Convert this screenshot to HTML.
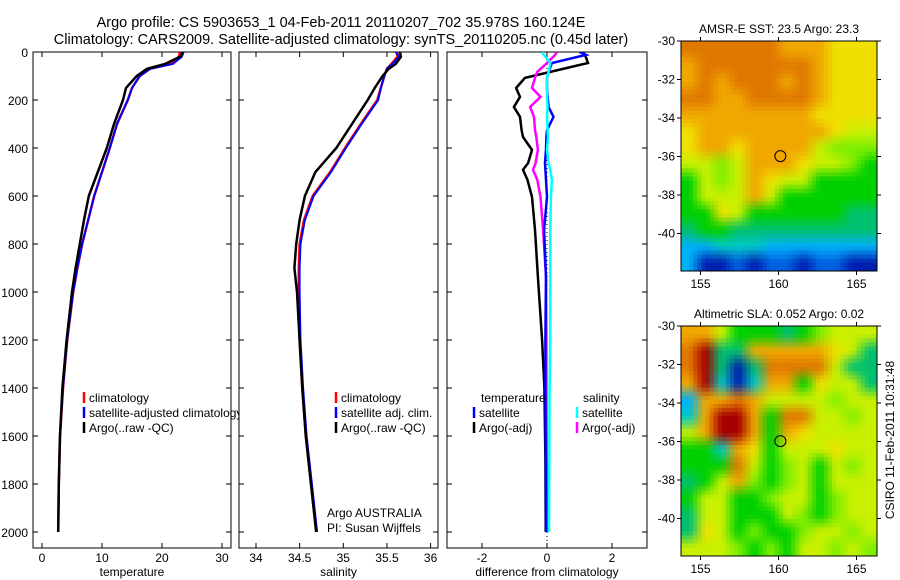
<!DOCTYPE html>
<html><head><meta charset="utf-8"><style>
body{margin:0;background:#fff}
svg{display:block;font-family:"Liberation Sans",sans-serif}
text{fill:#000}
</style></head><body>
<svg id="c" width="900" height="580" viewBox="0 0 900 580" xmlns="http://www.w3.org/2000/svg">
<defs>
<clipPath id="cp1"><rect x="33" y="52" width="198" height="496"/></clipPath>
<clipPath id="cp2"><rect x="239" y="52" width="199" height="496"/></clipPath>
<clipPath id="cp3"><rect x="447" y="52" width="200" height="496"/></clipPath>
</defs>
<text x="341" y="27" font-size="14.5" text-anchor="middle">Argo profile: CS 5903653_1 04-Feb-2011 20110207_702 35.978S 160.124E</text>
<text x="341" y="44" font-size="14.5" text-anchor="middle">Climatology: CARS2009. Satellite-adjusted climatology: synTS_20110205.nc (0.45d later)</text>
<g id="g"></g>
</svg>
<script>
// ---- data ----
const depthProfile=[0,20,50,70,100,150,200,300,400,500,600,700,800,900,1000,1200,1400,1600,1800,2000];
const climTemp=[23,22.8,21.5,18,16.3,15,14.3,12.5,11.3,10,8.7,7.7,6.7,5.9,5.2,4.2,3.5,3.0,2.8,2.7];
const satTemp=[23.6,23.3,21.8,18,16.3,15,14.3,12.5,11.3,10,8.7,7.7,6.7,5.9,5.2,4.2,3.5,3.0,2.8,2.7];
const argoTemp=[23.5,23.0,20.5,17.5,15.8,14,13.5,12,10.8,9.3,7.8,7,6.3,5.6,5,4.1,3.4,3.0,2.8,2.7];
const climSal=[35.62,35.62,35.55,35.5,35.47,35.43,35.39,35.2,35.02,34.85,34.65,34.55,34.5,34.49,34.49,34.5,34.53,34.57,34.63,34.69];
const satSal=[35.6,35.64,35.56,35.5,35.47,35.43,35.4,35.21,35.03,34.86,34.66,34.56,34.51,34.5,34.5,34.51,34.54,34.58,34.64,34.7];
const argoSal=[35.65,35.66,35.6,35.52,35.45,35.36,35.28,35.1,34.92,34.68,34.56,34.5,34.46,34.44,34.47,34.5,34.53,34.57,34.63,34.69];
const depthDiff=[0,12,46,83,108,150,187,229,270,326,354,408,463,491,533,604,741,937,1200,1400,1700,2000];
const tempArgoDiff=[1.1,1.17,1.26,0.1,-0.68,-0.95,-0.83,-1.02,-0.83,-0.78,-0.74,-0.46,-0.58,-0.74,-0.6,-0.46,-0.37,-0.28,-0.15,-0.08,-0.05,-0.04];
const salArgoDiff=[0.3,0.25,0,-0.3,-0.37,-0.46,-0.2,-0.52,-0.4,-0.37,-0.33,-0.28,-0.35,-0.43,-0.3,-0.2,-0.12,-0.03,-0.02,-0.02,-0.01,0];
const tempSatDiff=[1.0,1.2,0.15,0.05,0,0,0.02,0.05,0.2,0,-0.02,-0.03,-0.06,-0.05,-0.03,0,-0.09,-0.03,-0.05,-0.05,-0.04,-0.03];
const salSatDiff=[-0.15,-0.1,0.1,0.05,0,0,0,0.02,0,0.02,0.03,0,0.05,0.1,0.15,0.12,0.1,0.1,0.1,0.08,0.07,0.06];
const depthTicks=[0,200,400,600,800,1000,1200,1400,1600,1800,2000];
const tempTicks=[0,10,20,30];
const salTicks=[34,34.5,35,35.5,36];
const diffTicks=[-2,0,2];
const lonTicks=[155,160,165];
const latTicks=[-30,-32,-34,-36,-38,-40];
const sstGrid=["OOOOOOoooYYY","oOOOOOOOoYYY","oOoOOOoOoYYY","OOooOOOOoYYY","ooooooooYYYY","YooooooooYyy","YooYooooyLLL","yyLyoooYyyLG","GyLyoYyyGGGG","GyyyoyGGGGGG","GGYyGGGGGGgg","gGGggggggggg","sscccsssssss","sBBbBbbBbbBB"];
const slaGrid=["ooyGGGgGLyyy","ORggoooooYyg","ORgBgOOOOygg","oRcBcooGYyyg","sooOoyyyyLyy","coRRoGOOyyLy","yoRRoGoYyyyy","GGcoYGyyyYyy","GGGOyGLyGyLy","gGyoLGLyGyyy","GyyGGLyyGLyy","gyyGGGyLGLyy","gYyGLGGLyyLy","yyyLGLGyyLyL"];
const cmap={o:[240,168,0],O:[224,120,0],R:[168,0,0],Y:[240,224,0],y:[200,240,0],L:[128,238,0],G:[0,208,0],g:[0,192,112],c:[0,200,200],s:[0,176,248],b:[0,96,224],B:[0,32,176]};
// ---- helpers ----
const NS="http://www.w3.org/2000/svg", G=document.getElementById('g');
function mk(t,a,p){const e=document.createElementNS(NS,t);for(const k in a)e.setAttribute(k,a[k]);(p||G).appendChild(e);return e;}
const Y=d=>52+d*0.24;
const xT=v=>42+v*6, xS=v=>256+(v-34)*87.3, xD=v=>547+v*32.5;
function panel(name,x0,x1,xs,ticks,label,yl){
  const r=mk('rect',{x:x0,y:52,width:x1-x0,height:496,fill:'#fff',stroke:'#000','stroke-width':1});
  
  ticks.forEach(t=>{const x=xs(t);
    mk('line',{x1:x,x2:x,y1:548,y2:543,stroke:'#000'});mk('line',{x1:x,x2:x,y1:52,y2:57,stroke:'#000'});
    const tx=mk('text',{x:x,y:562,'font-size':12,'text-anchor':'middle'});tx.textContent=t;
    });
  depthTicks.forEach(d=>{const y=Y(d);
    mk('line',{x1:x0,x2:x0+5,y1:y,y2:y,stroke:'#000'});mk('line',{x1:x1-5,x2:x1,y1:y,y2:y,stroke:'#000'});
    if(yl){const tx=mk('text',{x:28,y:y+5,'font-size':12,'text-anchor':'end'});tx.textContent=d;
      }});
  const xl=mk('text',{x:(x0+x1)/2,y:576,'font-size':12,'text-anchor':'middle'});xl.textContent=label;
  
}
function line(name,ds,vs,xs,col,clip,w){
  const pts=ds.map((d,i)=>xs(vs[i]).toFixed(1)+','+Y(d).toFixed(1)).join(' ');
  const p=mk('polyline',{points:pts,fill:'none',stroke:col,'stroke-width':w||2.5,'clip-path':'url(#'+clip+')'});
  
}
function leg(name,x,y,col,txt){
  mk('line',{x1:x,x2:x,y1:y-10,y2:y+1,stroke:col,'stroke-width':2.5});
  const t=mk('text',{x:x+5,y:y,'font-size':12});t.textContent=txt;
  
}
// ---- panel 1 ----
panel('temperature-panel',33,231,xT,tempTicks,'temperature',true);
line('temp-climatology-line',depthProfile,climTemp,xT,'#f00','cp1');
line('temp-satellite-line',depthProfile,satTemp,xT,'#00f','cp1',2);
line('temp-argo-line',depthProfile,argoTemp,xT,'#000','cp1');
leg('legend-climatology',84,402,'#f00','climatology');
leg('legend-satellite-adjusted',84,417,'#00f','satellite-adjusted climatology');
leg('legend-argo',84,432,'#000','Argo(..raw -QC)');
// ---- panel 2 ----
panel('salinity-panel',239,438,xS,salTicks,'salinity',false);
line('sal-climatology-line',depthProfile,climSal,xS,'#f00','cp2');
line('sal-satellite-line',depthProfile,satSal,xS,'#00f','cp2',2);
line('sal-argo-line',depthProfile,argoSal,xS,'#000','cp2');
leg('legend-sal-climatology',336,402,'#f00','climatology');
leg('legend-sal-satellite',336,417,'#00f','satellite adj. clim.');
leg('legend-sal-argo',336,432,'#000','Argo(..raw -QC)');
[['Argo AUSTRALIA',517],['PI: Susan Wijffels',532]].forEach(([s,y])=>{const t=mk('text',{x:327,y:y,'font-size':12});t.textContent=s;
  });
// ---- panel 3 ----
panel('difference-panel',447,647,xD,diffTicks,'difference from climatology',false);
mk('line',{x1:xD(0),x2:xD(0),y1:52,y2:548,stroke:'#000','stroke-dasharray':'1,3'});
line('diff-temp-argo-line',depthDiff,tempArgoDiff,xD,'#000','cp3');
line('diff-sal-argo-line',depthDiff,salArgoDiff,xD,'#f0f','cp3');
line('diff-temp-satellite-line',depthDiff,tempSatDiff,xD,'#00f','cp3');
line('diff-sal-satellite-line',depthDiff,salSatDiff,xD,'#0ff','cp3');
{const t=mk('text',{x:481,y:402,'font-size':12});t.textContent='temperature';
 const s=mk('text',{x:583,y:402,'font-size':12});s.textContent='salinity';}
leg('legend-diff-temp-satellite',474,417,'#00f','satellite');
leg('legend-diff-temp-argo',474,432,'#000','Argo(-adj)');
leg('legend-diff-sal-satellite',577,417,'#0ff','satellite');
leg('legend-diff-sal-argo',577,432,'#f0f','Argo(-adj)');
// ---- maps ----
function map(name,top,grid,title){
  const L=681,W=196,H=230,lx=v=>L+(v-153.75)*15.6,ly=v=>top+(-30-v)*19.25;
  const NC=12,NR=14,SUB=4,nx=NC*SUB,ny=NR*SUB,cw=W/nx,ch=H/ny;
  const col=(r,k)=>cmap[grid[Math.max(0,Math.min(NR-1,r))][Math.max(0,Math.min(NC-1,k))]];
  const g=mk('g',{});
  
  for(let j=0;j<ny;j++)for(let i=0;i<nx;i++){
    const gx=(i+0.5)/SUB-0.5, gy=(j+0.5)/SUB-0.5;
    const k0=Math.floor(gx),r0=Math.floor(gy),fx=gx-k0,fy=gy-r0;
    const a=col(r0,k0),b=col(r0,k0+1),c=col(r0+1,k0),d=col(r0+1,k0+1);
    const rgb=[0,1,2].map(q=>Math.round(a[q]*(1-fx)*(1-fy)+b[q]*fx*(1-fy)+c[q]*(1-fx)*fy+d[q]*fx*fy));
    mk('rect',{x:(L+i*cw).toFixed(2),y:(top+j*ch).toFixed(2),width:(cw+0.5).toFixed(2),height:(ch+0.5).toFixed(2),fill:'rgb('+rgb.join(',')+')'},g);
  }
  const f=mk('rect',{x:L,y:top,width:W,height:H,fill:'none',stroke:'#000'});
  
  lonTicks.forEach(v=>{const x=lx(v);mk('line',{x1:x,x2:x,y1:top,y2:top-4,stroke:'#000'});mk('line',{x1:x,x2:x,y1:top+H,y2:top+H+4,stroke:'#000'});
    const t=mk('text',{x:x,y:top+H+17,'font-size':12,'text-anchor':'middle'});t.textContent=v;
    });
  latTicks.forEach(v=>{const y=ly(v);mk('line',{x1:L-4,x2:L,y1:y,y2:y,stroke:'#000'});mk('line',{x1:L+W,x2:L+W+4,y1:y,y2:y,stroke:'#000'});
    const t=mk('text',{x:L-6,y:y+4,'font-size':12,'text-anchor':'end'});t.textContent=v;
    });
  const c=mk('circle',{cx:lx(160.12),cy:ly(-35.98),r:5.5,fill:'none',stroke:'#000'});
  
  const tt=mk('text',{x:L+W/2,y:top-8,'font-size':12,'text-anchor':'middle'});tt.textContent=title;
  
}
map('sst-map',41,sstGrid,'AMSR-E SST: 23.5 Argo: 23.3');
map('sla-map',326,slaGrid,'Altimetric SLA: 0.052 Argo: 0.02');
{const t=mk('text',{x:0,y:0,'font-size':12,transform:'translate(894,440) rotate(-90)','text-anchor':'middle'});t.textContent='CSIRO 11-Feb-2011 10:31:48';
 }
</script>
</body></html>
